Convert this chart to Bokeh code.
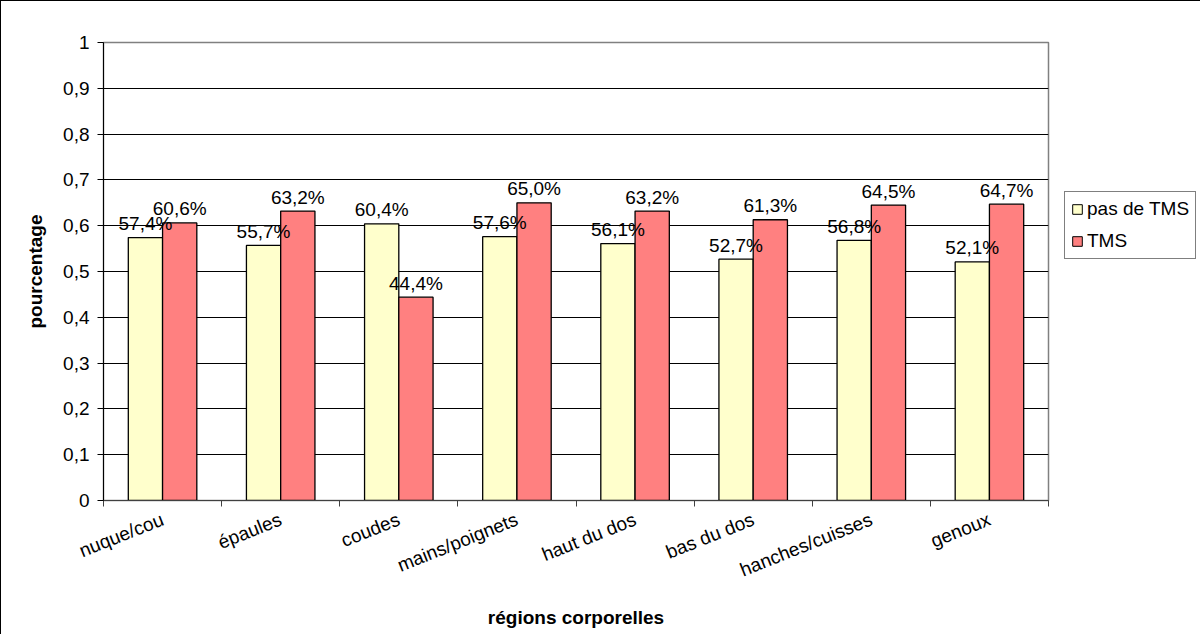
from bokeh.plotting import figure
from bokeh.layouts import row
from bokeh.models import (ColumnDataSource, Range1d, LinearAxis,
                          FixedTicker, CustomJSTickFormatter, Legend, LegendItem)
from bokeh.transform import dodge
from bokeh.core.properties import value
from bokeh.embed import file_html
from bokeh.resources import INLINE

categories = ["nuque/cou", "épaules", "coudes", "mains/poignets", "haut du dos",
              "bas du dos", "hanches/cuisses", "genoux"]
pas_de_tms = [0.574, 0.557, 0.604, 0.576, 0.561, 0.527, 0.568, 0.521]
tms = [0.606, 0.632, 0.444, 0.650, 0.632, 0.613, 0.645, 0.647]
series_names = ["pas de TMS", "TMS"]
y_ticks = [0, 0.1, 0.2, 0.3, 0.4, 0.5, 0.6, 0.7, 0.8, 0.9, 1.0]


def fmt(v):
    return f"{v * 100:.1f}%".replace(".", ",")


n = len(categories)
centers = [i + 0.5 for i in range(n)]
edges = list(range(n + 1))
src = ColumnDataSource(dict(
    xc=centers,
    a=pas_de_tms,
    b=tms,
    la=[fmt(v) for v in pas_de_tms],
    lb=[fmt(v) for v in tms],
))

FONT = "Liberation Sans"
FS = "19px"
YELLOW = "#FFFFCC"
RED = "#FF8080"
H = 633

p = figure(x_range=Range1d(0, n), y_range=Range1d(0, 1),
           width=1055, height=H, output_backend="svg", toolbar_location=None,
           x_axis_location=None,
           min_border_left=102, min_border_top=41, min_border_right=8, min_border_bottom=134)
p.outline_line_color = "#808080"
p.outline_line_width = 1.5
p.background_fill_color = "white"
p.border_fill_color = "white"

# y axis
p.yaxis.ticker = FixedTicker(ticks=y_ticks)
p.yaxis.formatter = CustomJSTickFormatter(
    code="return (Math.round(tick*10)/10).toString().replace('.', ',');")
p.yaxis.major_label_text_font = FONT
p.yaxis.major_label_text_font_size = FS
p.yaxis.major_label_text_color = "black"
p.yaxis.major_tick_out = 6
p.yaxis.major_tick_in = 0
p.yaxis.minor_tick_line_color = None
p.yaxis.major_label_standoff = 8
p.yaxis.axis_line_color = "black"
p.yaxis.major_tick_line_color = "black"
p.yaxis.axis_label = "pourcentage"
p.yaxis.axis_label_text_font = FONT
p.yaxis.axis_label_text_font_size = FS
p.yaxis.axis_label_text_font_style = "bold"
p.yaxis.axis_label_text_color = "black"
p.yaxis.axis_label_standoff = 14

p.ygrid.grid_line_color = "black"
p.ygrid.grid_line_width = 1
p.xgrid.grid_line_color = None

# x axis: labels at category centers, tick marks on category boundaries (minor ticks)
x_axis = LinearAxis(ticker=FixedTicker(ticks=centers, minor_ticks=edges),
                    major_label_overrides={c: cat for c, cat in zip(centers, categories)},
                    axis_line_color="#404040", major_tick_line_color=None,
                    major_tick_out=0, major_tick_in=0,
                    minor_tick_line_color="#404040", minor_tick_out=6, minor_tick_in=0,
                    major_label_orientation=0.38,
                    major_label_standoff=12,
                    major_label_text_font=FONT, major_label_text_font_size=FS,
                    major_label_text_color="black",
                    axis_label="régions corporelles", axis_label_text_font=FONT,
                    axis_label_text_font_size=FS, axis_label_text_font_style="bold",
                    axis_label_text_color="black", axis_label_standoff=14)
p.add_layout(x_axis, "below")

W = 0.29
off = W / 2
p.vbar(x=dodge("xc", -off), top="a", width=W, source=src,
       fill_color=YELLOW, line_color="black", line_width=1.3)
p.vbar(x=dodge("xc", off), top="b", width=W, source=src,
       fill_color=RED, line_color="black", line_width=1.3)

p.text(x=dodge("xc", -off), y="a", text="la", source=src,
       y_offset=-14, text_align="center", text_baseline="alphabetic",
       text_font=value(FONT), text_font_size=FS, text_color="black")
p.text(x=dodge("xc", off), y="b", text="lb", source=src,
       y_offset=-14, text_align="center", text_baseline="alphabetic",
       text_font=value(FONT), text_font_size=FS, text_color="black")

# legend panel: a small figure to the right of the plot area; its bars lie
# outside its visible range, so only the legend shows
lg = figure(width=144, height=541, x_range=Range1d(-2, -1), y_range=Range1d(0, 1),
            output_backend="svg", toolbar_location=None,
            min_border_left=0, min_border_right=0, min_border_top=0, min_border_bottom=0)
lg.axis.visible = False
lg.grid.visible = False
lg.outline_line_color = None
lg.background_fill_color = "white"
lg.border_fill_color = "white"
d1 = lg.vbar(x="xc", top="a", width=W, source=src,
             fill_color=YELLOW, line_color="black", line_width=1)
d2 = lg.vbar(x="xc", top="b", width=W, source=src,
             fill_color=RED, line_color="black", line_width=1)
legend = Legend(items=[LegendItem(label=series_names[0], renderers=[d1]),
                       LegendItem(label=series_names[1], renderers=[d2])],
                location="center_left", orientation="vertical",
                border_line_color="black", border_line_width=1,
                background_fill_color="white", background_fill_alpha=1,
                label_text_font=FONT, label_text_font_size=FS, label_text_color="black",
                glyph_width=12, glyph_height=12, label_standoff=4,
                padding=6, spacing=10, label_height=22, margin=8)
lg.add_layout(legend, "center")

layout = row(p, lg, styles={"border-left": "1px solid black", "border-top": "1px solid black"})

open("out.html", "w").write(file_html(layout, INLINE))
